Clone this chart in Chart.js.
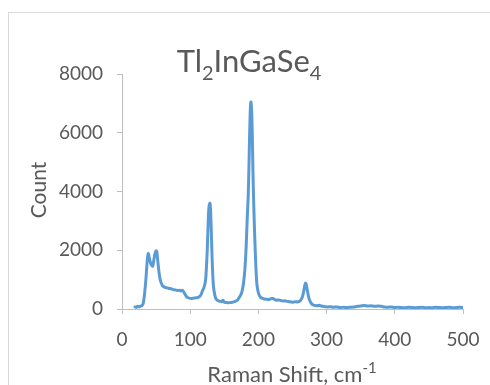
<!DOCTYPE html>
<html>
<head>
<meta charset="utf-8">
<script src="https://cdn.jsdelivr.net/npm/chart.js@4.4.1/dist/chart.umd.min.js"></script>
<style>
  html, body { margin: 0; padding: 0; background: #fff; overflow: hidden; }
  #wrap { position: relative; width: 490px; height: 385px; }
  #frame { position: absolute; left: 8px; top: 12px; width: 700px; height: 600px; border: 1px solid #d9d9d9; box-sizing: border-box; }
  canvas { position: absolute; left: 0; top: 0; }
</style>
</head>
<body>
<div id="wrap">
  <div id="frame"></div>
  <canvas id="chart" width="490" height="385"></canvas>
</div>
<script>
const shift = [19, 21, 23, 25, 27, 29, 31, 33, 35, 37, 38.5, 40, 42, 44, 45, 46, 48, 50, 51, 52,
  54, 56, 58, 60, 63, 66, 69, 72, 75, 78, 81, 84, 86, 88, 90, 92, 94, 96, 99, 102,
  105, 108, 111, 114, 116, 118, 120, 122, 123, 124, 125, 126, 127, 128, 129, 130, 131, 132, 133, 134,
  136, 138, 141, 144, 146, 148, 150, 153, 156, 159, 162, 165, 168, 170, 172, 174, 176, 178, 180, 181,
  182, 183, 184, 185, 186, 187, 188, 189, 190, 191, 192, 193, 194, 195, 196, 197, 198, 200, 203, 206,
  209, 212, 215, 218, 221, 224, 227, 230, 233, 236, 239, 242, 245, 248, 251, 254, 257, 260, 262, 264,
  266, 268, 269, 270, 272, 274, 276, 278, 280, 283, 286, 289, 292, 295, 298, 302, 306, 310, 315, 320,
  325, 330, 335, 340, 345, 350, 355, 360, 365, 370, 375, 380, 385, 390, 395, 400, 405, 410, 415, 420,
  425, 430, 435, 440, 445, 450, 455, 460, 465, 470, 475, 480, 485, 490, 495, 500];
const counts = [70, 60, 90, 70, 100, 110, 180, 500, 1000, 1650, 1890, 1750, 1550, 1470, 1460, 1560, 1850, 1980, 1960, 1750,
  1300, 1000, 860, 780, 740, 720, 700, 690, 660, 650, 630, 640, 610, 640, 600, 520, 440, 390, 370, 360,
  370, 380, 390, 430, 500, 620, 720, 900, 1100, 1500, 2000, 2700, 3300, 3550, 3600, 3300, 2600, 1800, 1200, 800,
  480, 340, 280, 260, 250, 300, 230, 220, 210, 220, 230, 250, 280, 320, 400, 470, 600, 850, 1300, 1650,
  2100, 2700, 3300, 3800, 4700, 5800, 6700, 7050, 6800, 6000, 4700, 3700, 2900, 2200, 1600, 1100, 800, 550, 400, 360,
  340, 330, 320, 350, 360, 320, 300, 310, 290, 270, 280, 260, 250, 240, 230, 250, 240, 260, 300, 380,
  550, 800, 880, 850, 600, 380, 250, 180, 140, 120, 110, 130, 100, 90, 80, 70, 80, 60, 70, 50,
  60, 50, 60, 70, 90, 100, 120, 100, 110, 90, 100, 90, 70, 60, 70, 50, 60, 50, 40, 60,
  50, 40, 50, 60, 40, 50, 40, 60, 50, 40, 50, 60, 40, 50, 60, 50];
const xTicks = [0, 100, 200, 300, 400, 500];
const yTicks = [0, 2000, 4000, 6000, 8000];

const FONT = "Lato, 'Open Sans', sans-serif";
const TEXT = "#595959";
const AXIS = "#bfbfbf";

function drawRich(ctx, parts, x, y, size, rotate) {
  ctx.save();
  ctx.translate(x, y);
  if (rotate) ctx.rotate(rotate);
  ctx.fillStyle = TEXT;
  ctx.textBaseline = "alphabetic";
  ctx.textAlign = "left";
  const fonts = parts.map(([, mode]) => `${mode ? Math.round(size * 0.66) : size}px ${FONT}`);
  let total = 0;
  const widths = parts.map(([text], i) => {
    ctx.font = fonts[i];
    const w = ctx.measureText(text).width;
    total += w;
    return w;
  });
  let cx = -total / 2;
  parts.forEach(([text, mode], i) => {
    ctx.font = fonts[i];
    const dy = mode === 1 ? size * 0.25 : mode === -1 ? -size * 0.4 : 0;
    ctx.fillText(text, cx, dy);
    cx += widths[i];
  });
  ctx.restore();
}

const labelsPlugin = {
  id: "labels",
  afterDraw(chart) {
    const ctx = chart.ctx;
    drawRich(ctx, [["Tl", 0], ["2", 1], ["InGaSe", 0], ["4", 1]], 249, 72, 31);
    drawRich(ctx, [["Raman Shift, cm", 0], ["-1", -1]], 292, 382, 22);
    drawRich(ctx, [["Count", 0]], 46, 190, 21, -Math.PI / 2);
  },
};

new Chart(document.getElementById("chart"), {
  type: "line",
  data: {
    datasets: [{
      data: shift.map((x, i) => ({ x, y: counts[i] })),
      borderColor: "#5b9bd5",
      borderWidth: 3,
      borderJoinStyle: "round",
      borderCapStyle: "round",
      pointRadius: 0,
      tension: 0.2,
      fill: false,
    }],
  },
  options: {
    responsive: false,
    animation: false,
    layout: { padding: { left: 0, top: 74, right: 27, bottom: 0 } },
    plugins: { legend: { display: false }, tooltip: { enabled: false } },
    scales: {
      x: {
        type: "linear",
        min: 0,
        max: 500,
        afterBuildTicks: (scale) => { scale.ticks = xTicks.map((value) => ({ value })); },
        afterFit: (scale) => {
          scale.height = 76;
          scale.paddingLeft = 0;
          scale.paddingRight = 0;
        },
        grid: { drawOnChartArea: false, drawTicks: true, tickLength: 5, color: AXIS },
        border: { color: AXIS, width: 1 },
        ticks: { color: TEXT, font: { family: FONT, size: 19 }, padding: 14, maxRotation: 0, callback: (v) => String(v) },
      },
      y: {
        min: 0,
        max: 8000,
        afterBuildTicks: (scale) => { scale.ticks = yTicks.map((value) => ({ value })); },
        afterFit: (scale) => {
          scale.width = 122;
          scale.paddingTop = 0;
          scale.paddingBottom = 0;
        },
        grid: { drawOnChartArea: false, drawTicks: true, tickLength: 5, color: AXIS },
        border: { color: AXIS, width: 1 },
        ticks: { color: TEXT, font: { family: FONT, size: 19 }, padding: 14, callback: (v) => String(v) },
      },
    },
  },
  plugins: [labelsPlugin],
});
</script>
</body>
</html>
